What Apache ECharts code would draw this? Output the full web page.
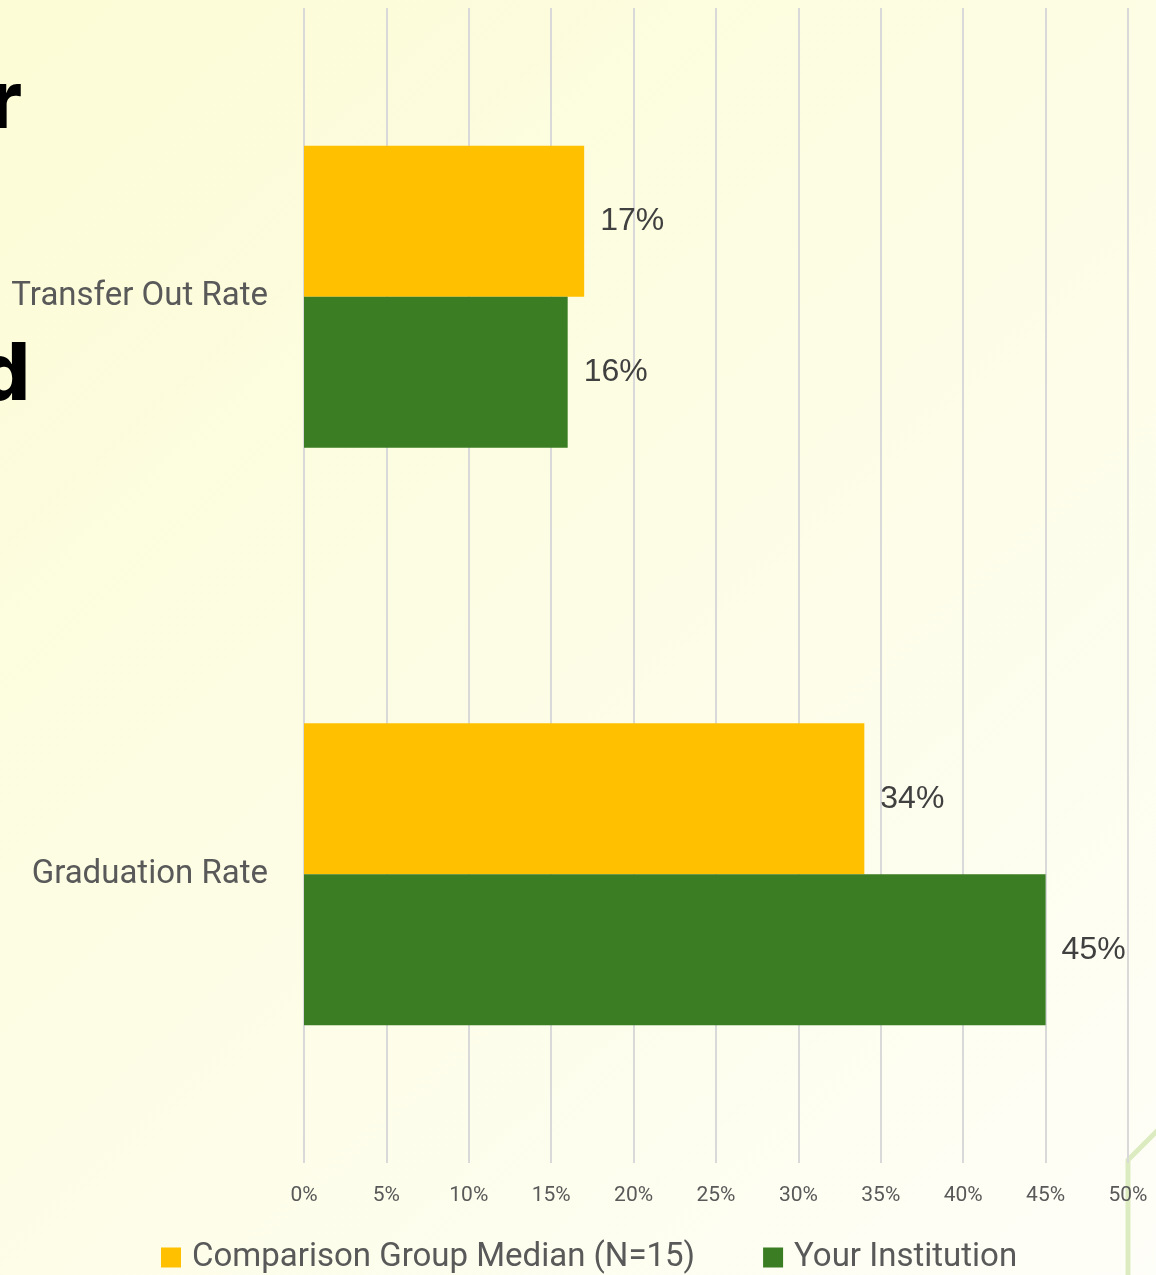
<!DOCTYPE html>
<html>
<head>
<meta charset="utf-8">
<script src="https://cdn.jsdelivr.net/npm/echarts@6/dist/echarts.min.js"></script>
<style>
  html, body { margin: 0; padding: 0; }
  #chart { width: 1156px; height: 1275px; }
</style>
</head>
<body>
<div id="chart"></div>
<script>
const categories = ['Transfer Out Rate', 'Graduation Rate'];
const comparisonMedian = [17, 34];
const yourInstitution = [16, 45];
const seriesNames = ['Comparison Group Median (N=15)', 'Your Institution'];

const chart = echarts.init(document.getElementById('chart'));

const labelStyle = {
  show: true,
  position: 'right',
  distance: 16,
  formatter: p => p.value + '%',
  fontSize: 32,
  color: '#404040',
  fontFamily: 'Liberation Sans'
};

const option = {
  backgroundColor: {
    type: 'linear', x: 0, y: 0, x2: 1, y2: 1,
    colorStops: [
      { offset: 0, color: '#fcfcd6' },
      { offset: 0.5, color: '#fdfde6' },
      { offset: 1, color: '#fefef8' }
    ]
  },
  animation: false,
  grid: { left: 304, right: 28, top: 8, bottom: 112 },
  legend: {
    data: seriesNames,
    bottom: -4,
    left: 156,
    itemWidth: 20,
    itemHeight: 20,
    itemGap: 68,
    icon: 'rect',
    textStyle: { fontSize: 33, color: '#595959', fontFamily: 'Roboto', padding: [0, 0, 0, 6] }
  },
  xAxis: {
    type: 'value',
    min: 0,
    max: 50,
    interval: 5,
    axisLine: { show: false },
    axisTick: { show: false },
    axisLabel: {
      formatter: '{value}%',
      fontSize: 21,
      color: '#595959',
      margin: 22,
      fontFamily: 'Roboto'
    },
    splitLine: { lineStyle: { color: '#d9d9d9', width: 2 } }
  },
  yAxis: {
    type: 'category',
    data: categories,
    inverse: true,
    axisLine: { show: false },
    axisTick: { show: false },
    axisLabel: { fontSize: 33, color: '#595959', margin: 36, fontFamily: 'Roboto' }
  },
  series: [
    {
      name: seriesNames[0],
      type: 'bar',
      data: comparisonMedian,
      itemStyle: { color: '#ffc000' },
      barGap: '0%',
      barCategoryGap: '47.7%',
      label: labelStyle
    },
    {
      name: seriesNames[1],
      type: 'bar',
      data: yourInstitution,
      itemStyle: { color: '#3a7d22' },
      barGap: '0%',
      barCategoryGap: '47.7%',
      label: labelStyle
    }
  ],
  graphic: [
    {
      type: 'text', x: 22, y: 104,
      style: { text: 'r', fill: '#000', font: '800 80px Inter', align: 'right', verticalAlign: 'middle' },
      z: 10
    },
    {
      type: 'text', x: 30, y: 376,
      style: { text: 'd', fill: '#000', font: '800 80px Inter', align: 'right', verticalAlign: 'middle' },
      z: 10
    },
    {
      type: 'polyline',
      shape: { points: [[1128, 1275], [1128, 1160], [1160, 1128]] },
      style: { stroke: '#dcecc0', lineWidth: 5, fill: null },
      z: -1
    }
  ]
};

chart.setOption(option);
window.addEventListener('resize', () => chart.resize());
</script>
</body>
</html>
